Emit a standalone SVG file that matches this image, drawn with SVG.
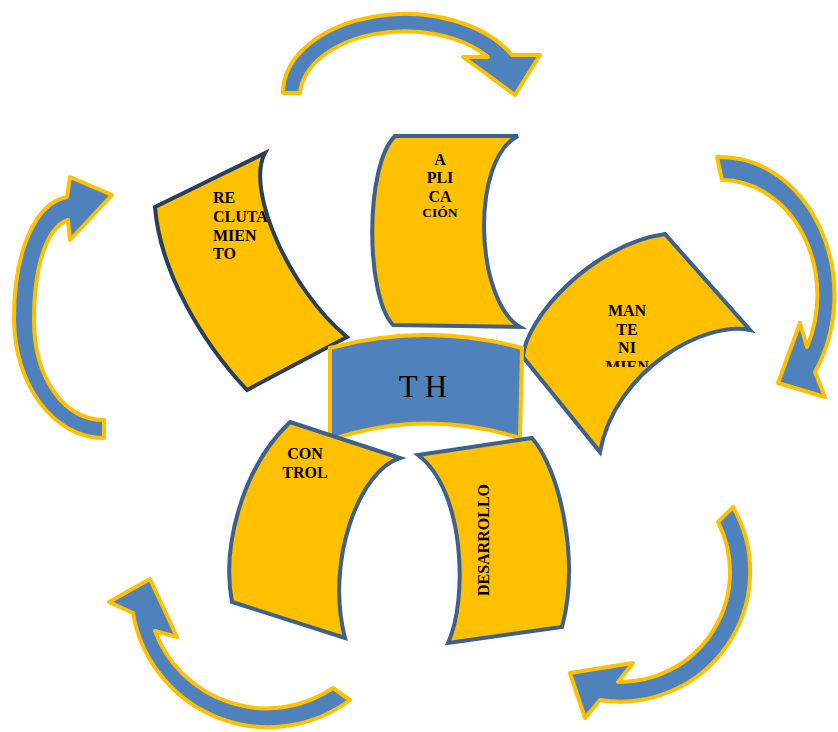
<svg xmlns="http://www.w3.org/2000/svg" width="838" height="732" viewBox="0 0 838 732">
<style>
.arrow{fill:#4F81BD;stroke:#FFC000;stroke-width:4;stroke-linejoin:round}
.blk{fill:#FFC000;stroke:#3C6190;stroke-width:4;stroke-linejoin:miter}
.dark{stroke:#283F60}
.lbl{font-family:"Liberation Serif","Times New Roman",serif;font-weight:bold;font-size:16px;fill:#000}
.mid{text-anchor:middle}
</style>
<defs>
<clipPath id="clipMan"><rect x="560" y="290" width="140" height="77"/></clipPath>
</defs>
<rect width="838" height="732" fill="#fff"/>
<g id="connectors">
<path class="arrow" d="M 283,93 A 122 79 0 0 1 512,55 L 540,55 L 515,95 L 463,57 L 488,57 A 105 66 0 0 0 300,93 Z"/>
<path class="arrow" d="M 717,157 A 114 138 0 0 1 815,372 L 825,397 L 778,383 L 800,323 L 807,347 A 96 115 0 0 0 722,180 Z"/>
<path class="arrow" d="M 733,507 A 130 130 0 0 1 600,700 L 585,718 L 570,673 L 633,663 L 618,682 A 110 110 0 0 0 718,522 Z"/>
<path class="arrow" d="M 350,700 A 137 137 0 0 1 133,613 L 109,602 L 150,579 L 177,637 L 155,631 A 119 119 0 0 0 333,688 Z"/>
<path class="arrow" d="M 104,438 C 54,438 14,385 14,318 C 14,252 35,203 67,197 L 70,177 L 112,195 L 70,240 L 68,220 C 45,228 34,270 34,320 C 34,378 64,420 104,420 Z"/>
</g>
<g id="reclutamiento">
<path class="blk dark" d="M 155,207 L 265,153 C 245,190 290,290 347,337 L 247,390 C 200,340 160,270 155,207 Z"/>
<text class="lbl" x="213" y="203">RE</text>
<text class="lbl" x="213" y="222">CLUTA</text>
<text class="lbl" x="213" y="241">MIEN</text>
<text class="lbl" x="213" y="259">TO</text>
</g>
<g id="aplicacion">
<path class="blk" d="M 395,136 L 518,136 C 470,160 475,300 520,327 L 393,325 C 365,295 365,165 395,136 Z"/>
<text class="lbl mid" x="440" y="165">A</text>
<text class="lbl mid" x="440" y="183">PLI</text>
<text class="lbl mid" x="440" y="202">CA</text>
<text class="lbl mid" x="440" y="217" style="font-size:13.5px">CIÓN</text>
</g>
<g id="mantenimiento">
<path class="blk" d="M 523,357 C 525,320 590,245 665,234 L 750,330 C 705,320 615,370 600,452 Z"/>
<g clip-path="url(#clipMan)">
<text class="lbl mid" x="627" y="316">MAN</text>
<text class="lbl mid" x="627" y="335">TE</text>
<text class="lbl mid" x="627" y="353">NI</text>
<text class="lbl mid" x="627" y="372">MIEN</text>
</g>
</g>
<g id="th">
<path d="M 330,348 Q 426,322 522,348 L 520,438 Q 425,408 330,440 Z" fill="#4F81BD" stroke="#FFC000" stroke-width="4"/>
<text x="423" y="397" text-anchor="middle" font-family="Liberation Serif, Times New Roman, serif" font-size="31" fill="#000">T H</text>
</g>
<g id="control">
<path class="blk" d="M 290,422 L 400,458 C 360,470 325,560 345,638 L 232,602 C 222,550 240,470 290,422 Z"/>
<text class="lbl mid" x="305" y="459">CON</text>
<text class="lbl mid" x="305" y="478">TROL</text>
</g>
<g id="desarrollo">
<path class="blk" d="M 418,455 L 532,438 C 560,470 580,560 562,627 L 448,643 C 468,600 465,490 418,455 Z"/>
<text class="lbl mid" transform="translate(489,540) rotate(-90)" x="0" y="0">DESARROLLO</text>
</g>
</svg>
